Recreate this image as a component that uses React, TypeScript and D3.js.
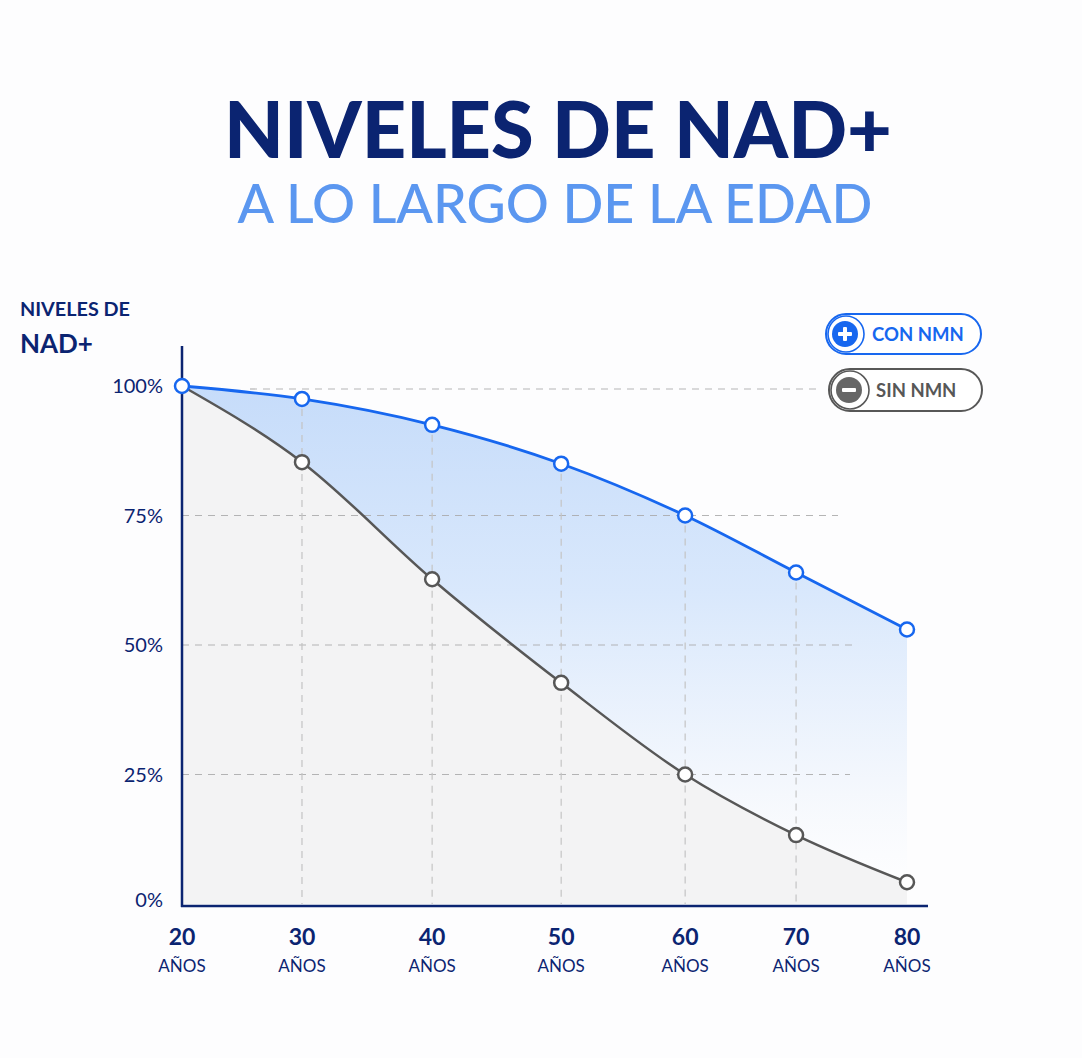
import React from "react";
import * as d3 from "d3";

const ages = [20, 30, 40, 50, 60, 70, 80];
const conNMN = [100, 97.5, 92.5, 85, 75, 64, 53];
const sinNMN = [100, 85.3, 62.7, 42.7, 25, 13.3, 4.2];
const yTicks = [0, 25, 50, 75, 100];
const title = "NIVELES DE NAD+";
const subtitle = "A LO LARGO DE LA EDAD";
const yLabel1 = "NIVELES DE";
const yLabel2 = "NAD+";
const xSub = "AÑOS";
const legendCon = "CON NMN";
const legendSin = "SIN NMN";

// layout: relative placement of age columns along the axis (uneven spacing as in the reference)
const colFrac = [0, 0.1655, 0.345, 0.523, 0.694, 0.847, 1];

const W = 1082;
const H = 1058;
const navy = "#0b2471";
const blue = "#1767ef";
const lightBlue = "#5b97f0";
const gray = "#575757";
const font = "Lato, 'Open Sans', sans-serif";

export default function App() {
  const x0 = 182, x1 = 907;
  const x = d3
    .scaleLinear()
    .domain(ages)
    .range(colFrac.map((f) => x0 + f * (x1 - x0)));
  const y = d3.scaleLinear().domain([0, 100]).range([904, 386]);

  const curve = d3.curveMonotoneX;
  const idx = ages.map((_, i) => i);
  const lineCon = d3.line<number>().x((i) => x(ages[i])).y((i) => y(conNMN[i])).curve(curve)(idx)!;
  const lineSin = d3.line<number>().x((i) => x(ages[i])).y((i) => y(sinNMN[i])).curve(curve)(idx)!;
  const areaGray = d3
    .area<number>()
    .x((i) => x(ages[i]))
    .y0(y(0))
    .y1((i) => y(sinNMN[i]))
    .curve(curve)(idx)!;
  const areaBlue = d3
    .area<number>()
    .x((i) => x(ages[i]))
    .y0((i) => y(sinNMN[i]))
    .y1((i) => y(conNMN[i]))
    .curve(curve)(idx)!;

  const hGridEnd: Record<number, number> = { 100: 822, 75: 838, 50: 852, 25: 850 };

  return (
    <svg
      width={W}
      height={H}
      style={{ position: "absolute", left: 0, top: 0, background: "#fdfdfe" }}
      fontFamily={font}
    >
      <defs>
        <linearGradient id="blueFill" x1="0" y1={y(100)} x2="0" y2={y(0)} gradientUnits="userSpaceOnUse">
          <stop offset="0" stopColor="#c6dcfa" />
          <stop offset="0.4" stopColor="#d9e8fc" />
          <stop offset="0.8" stopColor="#f5f8fd" stopOpacity="0.9" />
          <stop offset="1" stopColor="#ffffff" stopOpacity="0.6" />
        </linearGradient>
      </defs>
      <rect width={W} height={H} fill="#fdfdfe" />

      {/* titles */}
      <text x={558} y={158} textAnchor="middle" fontSize={79} fontWeight={900} fill={navy}
        textLength={668} lengthAdjust="spacingAndGlyphs">{title}</text>
      <text x={555} y={223} textAnchor="middle" fontSize={54} fontWeight={500} fill={lightBlue}
        textLength={635} lengthAdjust="spacingAndGlyphs">{subtitle}</text>

      {/* y label */}
      <text x={20} y={316} fontSize={18} fontWeight={700} fill={navy}
        textLength={110} lengthAdjust="spacingAndGlyphs">{yLabel1}</text>
      <text x={20} y={353} fontSize={26} fontWeight={700} fill={navy}>{yLabel2}</text>

      {/* areas */}
      <path d={areaGray} fill="#f3f3f4" />
      <path d={areaBlue} fill="url(#blueFill)" />

      {/* grid */}
      {yTicks.filter((t) => t > 0).map((t) => (
        <line key={"h" + t} x1={t === 100 ? 250 : x0} x2={hGridEnd[t]} y1={y(t) + (t === 100 ? 3 : 0)} y2={y(t) + (t === 100 ? 3 : 0)}
          stroke="#a9a9a9" strokeWidth={1.2} strokeDasharray="7 6" opacity={0.85} />
      ))}
      {ages.slice(1, -1).map((a, i) => (
        <line key={"v" + a} x1={x(a)} x2={x(a)} y1={y(conNMN[i + 1]) + 10} y2={y(0)}
          stroke="#c4c4c4" strokeWidth={1.2} strokeDasharray="7 6" />
      ))}

      {/* axes */}
      <line x1={x0} x2={x0} y1={346} y2={907} stroke={navy} strokeWidth={2.5} />
      <line x1={x0 - 1} x2={928} y1={906} y2={906} stroke={navy} strokeWidth={2.5} />

      {/* y ticks */}
      {yTicks.map((t) => (
        <text key={"yt" + t} x={163} y={y(t) + (t === 0 ? -4 : 0)} dy="0.35em" textAnchor="end"
          fontSize={20} fill={navy}>{t}%</text>
      ))}

      {/* x ticks */}
      {ages.map((a) => (
        <g key={"xt" + a}>
          <text x={x(a)} y={945} textAnchor="middle" fontSize={23} fontWeight={700} fill={navy}>{a}</text>
          <text x={x(a)} y={972} textAnchor="middle" fontSize={17} fill={navy}>{xSub}</text>
        </g>
      ))}

      {/* lines */}
      <path d={lineSin} fill="none" stroke={gray} strokeWidth={2.5} />
      <path d={lineCon} fill="none" stroke={blue} strokeWidth={2.8} />

      {/* points */}
      {ages.map((a, i) => (
        <circle key={"ps" + a} cx={x(a)} cy={y(sinNMN[i])} r={7} fill="#fff" stroke={gray} strokeWidth={2.5}
          display={i === 0 ? "none" : undefined} />
      ))}
      {ages.map((a, i) => (
        <circle key={"pc" + a} cx={x(a)} cy={y(conNMN[i])} r={7} fill="#fff" stroke={blue} strokeWidth={2.5} />
      ))}

      {/* legend */}
      <g>
        <rect x={826} y={314} width={155} height={40} rx={20} fill="#fff" stroke={blue} strokeWidth={2} />
        <circle cx={846} cy={334} r={18} fill="#fff" stroke={blue} strokeWidth={1.6} />
        <circle cx={845} cy={334} r={13} fill={blue} />
        <rect x={838} y={332} width={14} height={4} fill="#fff" rx={1} />
        <rect x={843} y={327} width={4} height={14} fill="#fff" rx={1} />
        <text x={872} y={341} fontSize={18.5} fontWeight={700} fill={blue}>{legendCon}</text>
      </g>
      <g>
        <rect x={829} y={369} width={153} height={42} rx={21} fill="#fff" stroke={gray} strokeWidth={2} />
        <circle cx={850} cy={390} r={19} fill="#fff" stroke={gray} strokeWidth={1.6} />
        <circle cx={849} cy={390} r={13} fill="#666" />
        <rect x={842} y={388} width={14} height={4} fill="#fff" rx={1} />
        <text x={876} y={397} fontSize={18.5} fontWeight={700} fill={gray}>{legendSin}</text>
      </g>
    </svg>
  );
}
